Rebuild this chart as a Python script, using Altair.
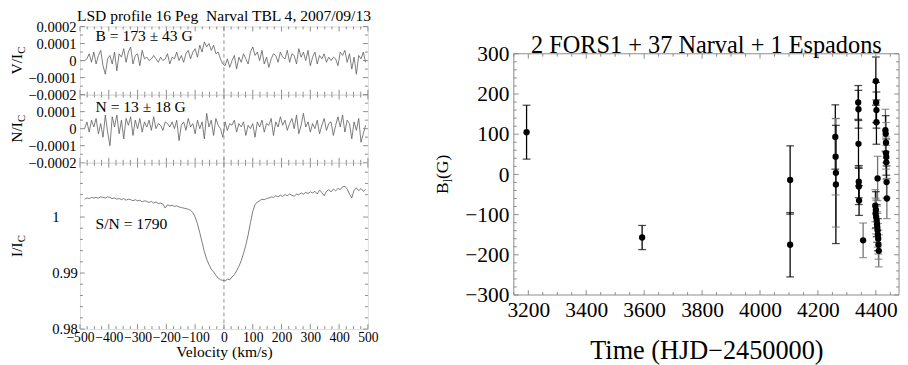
import altair as alt
import pandas as pd

FONT = "Liberation Serif"
GRAY = "#8a8a8a"
LINE = "#5a5a5a"

# ---------------- Left: LSD profiles (16 Peg, Narval 2007/09/13) ----------------
VEL_START = -484      # km/s, first velocity bin
VEL_STEP = 8          # km/s, bin width

# Stokes V / Ic  (units of 1e-4)
V_1e4 = [0.0, 0.1, 0.4, -0.1, 0.5, -0.2, 0.3, 0.6, -0.3, -0.8, 0.1,
         0.3, -0.2, 0.5, -0.6, 0.4, 0.2, 0.7, -0.1, 0.5, 0.8, -0.2, 0.3,
         0.4, -0.3, 0.6, 0.1, 0.2, 0.0, 0.1, 0.3, 0.1, -0.1, 0.2, 0.0, 0.1,
         0.4, -0.2, 0.2, 0.1, 0.5, 0.0, 0.3, -0.1, 0.4, 0.6, 0.1, 0.5,
         0.7, 0.2, 0.9, 0.5, 1.1, 0.8, 1.0, 0.6, 0.9, 0.4, 0.5, 0.1, -0.2,
         -0.3, 0.1, -0.4, 0.0, 0.3, -0.5, 0.2, -0.1, 0.4, 0.1, -0.2, 0.5, 0.8,
         0.3, 0.5, 0.0, 0.6, -0.2, 0.2, -0.4, 0.1, 0.4, 0.3, -0.1, 0.5, 0.2,
         0.1, 0.6, -0.1, 0.4, 0.3, -0.2, 0.7, 0.2, 0.5, 0.0, 0.6, -0.3,
         0.2, 0.5, -0.2, 0.3, 0.1, 0.4, -0.1, 0.2, 0.0, 0.2, 0.1, -0.3,
         0.5, 0.3, 0.6, -0.1, 0.4, -0.5, 0.2, -0.8, 0.3, 0.1, 0.5, -0.1]

# Null profile N / Ic  (units of 1e-4)
N_1e4 = [0.0, 0.4, -0.2, 0.5, 0.1, 0.6, -0.3, 0.3, -0.5, 0.8, -0.2,
         -1.0, 0.7, 0.1, 0.8, -0.3, 0.5, -0.6, 0.6, 0.2, 0.7, -0.4, 0.5,
         0.0, 0.6, -0.2, 0.4, 0.1, 0.5, -0.1, 0.7, 0.0, 0.3, 0.2, -0.1, 0.4,
         0.3, 0.1, 0.4, 0.0, 0.5, -0.7, 0.2, 0.4, -0.1, 0.6, 0.1, 0.3,
         -0.3, 0.5, 0.0, 0.4, -0.6, 0.9, 0.1, 0.5, -0.4, 0.6, 0.2, 0.0, -0.5,
         0.4, -0.1, 0.3, 0.2, 0.5, -0.2, 0.3, 0.1, 0.4, -0.4, 0.2, 0.0, 0.3,
         -0.5, 0.4, 0.1, 0.5, -0.2, 0.3, 0.2, 0.6, -0.4, 0.4, 0.1, 0.7, 0.2,
         0.5, -0.1, 0.3, 0.6, 0.0, 0.8, -0.3, 0.2, 0.9, 0.1, 0.4, -0.2,
         0.3, 0.0, 0.5, -0.3, 0.2, 0.6, -0.1, 0.3, 0.4, -0.4, 0.2, 0.7,
         0.1, 0.8, -0.2, 0.5, 0.3, -0.6, 0.4, -0.1, 0.6, -0.8, -0.3, 0.2]

# Intensity I / Ic
I_IC = [1.0032, 1.0034, 1.0033, 1.0035, 1.0034, 1.0035, 1.0034, 1.0036, 1.0035, 1.0034, 1.0036,
        1.0035, 1.0033, 1.0034, 1.0032, 1.0033, 1.0031, 1.0033, 1.0030, 1.0032, 1.0031, 1.0029, 1.0031,
        1.0029, 1.0030, 1.0027, 1.0029, 1.0028, 1.0026, 1.0028, 1.0025, 1.0027, 1.0024, 1.0025, 1.0023, 1.0016,
        1.0022, 1.0020, 1.0021, 1.0019, 1.0020, 1.0018, 1.0017, 1.0016, 1.0015, 1.0014, 1.0012, 1.0008,
        1.0000, 0.9988, 0.9972, 0.9955, 0.9938, 0.9925, 0.9915, 0.9907, 0.9902, 0.9896, 0.9891, 0.9888, 0.9887,
        0.9886, 0.9889, 0.9888, 0.9893, 0.9897, 0.9904, 0.9912, 0.9922, 0.9935, 0.9950, 0.9968, 0.9990, 1.0010,
        1.0022, 1.0027, 1.0029, 1.0032, 1.0031, 1.0033, 1.0034, 1.0036, 1.0035, 1.0038, 1.0036, 1.0039, 1.0037,
        1.0040, 1.0038, 1.0041, 1.0039, 1.0037, 1.0041, 1.0040, 1.0043, 1.0041, 1.0044, 1.0042, 1.0045,
        1.0043, 1.0046, 1.0041, 1.0048, 1.0044, 1.0038, 1.0046, 1.0049, 1.0045, 1.0050, 1.0047, 1.0051,
        1.0049, 1.0054, 1.0055, 1.0050, 1.0041, 1.0034, 1.0048, 1.0052, 1.0047, 1.0051, 1.0046, 1.0049]

velocity = [VEL_START + VEL_STEP * i for i in range(len(I_IC))]
prof = pd.DataFrame({
    "vel": velocity,
    "V": [v * 1e-4 for v in V_1e4],
    "N": [v * 1e-4 for v in N_1e4],
    "I": I_IC,
})

LEFT_TITLE = "LSD profile 16 Peg\u00a0\u00a0Narval TBL 4, 2007/09/13"
RIGHT_TITLE = "2 FORS1 + 37 Narval + 1 Espadons"

# ---------------- Right: longitudinal field measurements ----------------
HJD = [3194, 3593,
       4104, 4104,
       4260, 4261, 4262, 4262,
       4339, 4340, 4340, 4341, 4341, 4342,
       4356,
       4400, 4401, 4402, 4402,
       4406,
       4398, 4400, 4399, 4401, 4403, 4404, 4405, 4406, 4407, 4408, 4409, 4410,
       4433, 4434, 4435, 4435, 4436, 4436, 4437, 4438]
BL = [105, -157,
      -14, -175,
      93, 44, 4, -25,
      179, 162, 76, -18, -30, -65,
      -164,
      232, 179, 160, 130,
      -10,
      -78, -88, -97, -106, -115, -124, -131, -139, -150, -160, -175, -190,
      110, 101, 79, 53, 43, 30, -19, -60]
BL_ERR = [67, 30,
          85, 80,
          80, 95, 135, 147,
          42, 47, 58, 40, 45, 37,
          43,
          60, 50, 45, 55,
          55,
          40, 45, 38, 42, 40, 45, 38, 42, 40, 38, 36, 40,
          52, 45, 50, 40, 45, 42, 40, 50]
GROUP = ["A", "A",
         "A", "A",
         "A", "B", "B", "A",
         "A", "A", "A", "A", "A", "A",
         "B",
         "A", "A", "A", "A",
         "B",
         "B", "A", "B", "B", "A", "B", "B", "B", "A", "B", "B", "B",
         "B", "A", "B", "B", "A", "B", "A", "B"]

bdf = pd.DataFrame({"t": HJD, "B": BL, "err": BL_ERR, "grp": GROUP})
bdf["lo"] = bdf["B"] - bdf["err"]
bdf["hi"] = bdf["B"] + bdf["err"]

ONE = pd.DataFrame({"a": [0]})
ZERO = pd.DataFrame({"z": [0]})


def tick_layers(xs, ys, xmaj, xmin, ymaj, ymin, w, top, bottom, lmaj, lmin):
    layers = []
    for vals, L in ((xmaj, lmaj), (xmin, lmin)):
        d = pd.DataFrame({"t": vals})
        for y0, y1 in ((bottom, bottom - L), (top, top + L)):
            layers.append(alt.Chart(d).mark_rule(color=GRAY, strokeWidth=1).encode(
                x=alt.X("t:Q", scale=xs, axis=None), y=alt.value(y0), y2=alt.value(y1)))
    for vals, L in ((ymaj, lmaj), (ymin, lmin)):
        d = pd.DataFrame({"t": vals})
        for x0, x1 in ((0, L), (w, w - L)):
            layers.append(alt.Chart(d).mark_rule(color=GRAY, strokeWidth=1).encode(
                y=alt.Y("t:Q", scale=ys, axis=None), x=alt.value(x0), x2=alt.value(x1)))
    return layers


def rot_label(parts, yc, x0):
    """parts: (text, fontSize, approx width px, baseline shift px)"""
    total = sum(p[2] for p in parts)
    y = yc + total / 2
    layers = []
    for text, fs, wpx, dx in parts:
        layers.append(alt.Chart(ONE).mark_text(
            text=text, font=FONT, fontSize=fs, angle=270, align="left",
            baseline="alphabetic", color="black").encode(
            x=alt.value(x0 + dx), y=alt.value(y)))
        y -= wpx
    return layers


def note(text, x, y, size=16, align="left", opacity=1.0):
    return alt.Chart(ONE).mark_text(text=text, font=FONT, fontSize=size, align=align,
                                    baseline="middle", color="black", opacity=opacity).encode(
        x=alt.value(x), y=alt.value(y))


W_L = 296
H_V, H_N, H_I = 70, 70, 171
xs_L = alt.Scale(domain=[-500, 500], nice=False, zero=False)
X_MAJ_L = list(range(-500, 501, 100))
X_MIN_L = [v for v in range(-500, 501, 25) if v % 100 != 0]


def yaxis_left(values, align="right", pad=4):
    return alt.Axis(values=values, format="~g", labelFont=FONT, labelFontSize=15,
                    labelColor="black", labelPadding=pad, labelAlign=align,
                    ticks=False, domain=False, grid=False, title=None,
                    labelOverlap=False, labelFlush=False)


def profile_panel(field, ydom, yvals, ymaj, ymin, h, ylab_parts, extra, show_x):
    ys = alt.Scale(domain=ydom, nice=False, zero=False)
    if show_x:
        xax = alt.Axis(values=X_MAJ_L, format="d", labelFont=FONT, labelFontSize=14,
                       labelColor="black", labelPadding=2, ticks=False, domain=False,
                       grid=False, labelFlush=False, labelOverlap=False,
                       title="Velocity (km/s)", titleFont=FONT, titleFontSize=16,
                       titleFontWeight="normal", titleColor="black", titlePadding=-1)
    else:
        xax = None
    align, pad = ("left", 29) if field == "I" else ("right", 4)
    line = alt.Chart(prof).mark_line(color=LINE, strokeWidth=0.8).encode(
        x=alt.X("vel:Q", scale=xs_L, axis=xax),
        y=alt.Y(f"{field}:Q", scale=ys, axis=yaxis_left(yvals, align, pad)))
    zero = alt.Chart(ZERO).mark_rule(color="#777", strokeWidth=0.8, strokeDash=[4, 3]).encode(
        x=alt.X("z:Q", scale=xs_L, axis=None), y=alt.value(0), y2=alt.value(h))
    layers = [line, zero] + tick_layers(xs_L, ys, X_MAJ_L, X_MIN_L, ymaj, ymin, W_L, 0, h, 5, 3)
    layers += rot_label(ylab_parts, h / 2, -60) + extra
    return alt.layer(*layers).resolve_axis(x="independent", y="independent").properties(width=W_L, height=h)


VN_MAJ = [-0.0002, -0.0001, 0.0, 0.0001, 0.0002]
VN_MIN = [-0.00015, -0.00005, 0.00005, 0.00015]
TITLE_Y = -11

v_panel = profile_panel(
    "V", [-0.0002, 0.0002], VN_MAJ, VN_MAJ, VN_MIN, H_V,
    [("V/I", 16, 21.3, 0), ("C", 11, 7.5, 3)],
    [note("B = 173 ± 43 G", 16, 10), note(LEFT_TITLE, W_L / 2, TITLE_Y, 16, "center")], False)
n_panel = profile_panel(
    "N", [-0.0002, 0.0002], [-0.0002, -0.0001, 0.0, 0.0001], VN_MAJ, VN_MIN, H_N,
    [("N/I", 16, 21.3, 0), ("C", 11, 7.5, 3)],
    [note("N = 13 ± 18 G", 16, 13)], False)
I_MIN = [0.982, 0.984, 0.986, 0.988, 0.992, 0.994, 0.996, 0.998, 1.002, 1.004, 1.006, 1.008]
i_panel = profile_panel(
    "I", [0.98, 1.0097], [0.98, 0.99, 1.0], [0.98, 0.99, 1.0], I_MIN, H_I,
    [("I/I", 16, 15.1, 0), ("C", 11, 7.5, 3)],
    [note("S/N = 1790", 16, 63)], True)

left = alt.vconcat(v_panel, n_panel, i_panel, spacing=0, bounds="flush")

# ---------------- right chart ----------------
W_R = 396
H_R_AREA = 276          # from the top of the left panels to the bottom of the right frame
R_TOP = 28              # frame top inside the area
xs_R = alt.Scale(domain=[3150, 4480], nice=False, zero=False)
ys_R = alt.Scale(domain=[-300, 300], nice=False, zero=False, range=[H_R_AREA, R_TOP])
X_MAJ_R = list(range(3200, 4401, 200))
X_MIN_R = [v for v in range(3150, 4480, 50) if v % 200 != 0]
Y_MAJ_R = list(range(-300, 301, 100))
Y_MIN_R = [v for v in range(-300, 301, 20) if v % 100 != 0]

color_enc = alt.Color("grp:N", scale=alt.Scale(domain=["A", "B"], range=["black", "#707070"]), legend=None)
xax_R = alt.Axis(values=X_MAJ_R, format="d", labelFont=FONT, labelFontSize=22, labelColor="black",
                 labelPadding=5, ticks=False, domain=False, grid=False, labelFlush=False,
                 labelOverlap=False, title="Time (HJD\u22122450000)", titleFont=FONT,
                 titleFontSize=27, titleFontWeight="normal", titleColor="black", titlePadding=18)
yax_R = alt.Axis(values=Y_MAJ_R, format="d", labelFont=FONT, labelFontSize=22, labelColor="black",
                 labelPadding=5, ticks=False, domain=False, grid=False, labelFlush=False,
                 labelOverlap=False, title=None)

base = alt.Chart(bdf)
bars = base.mark_rule(strokeWidth=1.3).encode(
    x=alt.X("t:Q", scale=xs_R, axis=xax_R),
    y=alt.Y("lo:Q", scale=ys_R, axis=yax_R), y2="hi:Q", color=color_enc)
cap_lo = base.mark_tick(orient="horizontal", size=8, thickness=1.3).encode(
    x=alt.X("t:Q", scale=xs_R, axis=None), y=alt.Y("lo:Q", scale=ys_R, axis=None), color=color_enc)
cap_hi = base.mark_tick(orient="horizontal", size=8, thickness=1.3).encode(
    x=alt.X("t:Q", scale=xs_R, axis=None), y=alt.Y("hi:Q", scale=ys_R, axis=None), color=color_enc)
pts = base.mark_circle(size=42, color="black", opacity=1).encode(
    x=alt.X("t:Q", scale=xs_R, axis=None), y=alt.Y("B:Q", scale=ys_R, axis=None))

frame = [
    alt.Chart(ONE).mark_rule(color=GRAY, strokeWidth=1).encode(
        x=alt.value(0), x2=alt.value(W_R), y=alt.value(R_TOP)),
    alt.Chart(ONE).mark_rule(color=GRAY, strokeWidth=1).encode(
        x=alt.value(0), x2=alt.value(W_R), y=alt.value(H_R_AREA)),
    alt.Chart(ONE).mark_rule(color=GRAY, strokeWidth=1).encode(
        x=alt.value(0), y=alt.value(R_TOP), y2=alt.value(H_R_AREA)),
    alt.Chart(ONE).mark_rule(color=GRAY, strokeWidth=1).encode(
        x=alt.value(W_R), y=alt.value(R_TOP), y2=alt.value(H_R_AREA)),
]

right_layers = frame + [bars, cap_lo, cap_hi, pts]
right_layers += tick_layers(xs_R, ys_R, X_MAJ_R, X_MIN_R, Y_MAJ_R, Y_MIN_R, W_R, R_TOP, H_R_AREA, 5, 3)
right_layers += rot_label([("B", 18, 12.0, 0), ("l", 12, 3.4, 4), ("(G)", 18, 25.0, 0)],
                          (R_TOP + H_R_AREA) / 2, -68)
right_layers += [note(RIGHT_TITLE, W_R / 2, R_TOP - 9, 25, "center"),
                 note("\u00a0", W_R / 2, TITLE_Y, 16, "center", opacity=0)]

right = alt.layer(*right_layers).resolve_axis(x="independent", y="independent").properties(
    width=W_R, height=H_R_AREA, view=alt.ViewBackground(stroke="transparent"))

chart = alt.hconcat(left, right, spacing=56).properties(
    padding={"left": 0, "top": -6, "right": 0, "bottom": 0}
).configure_view(stroke=GRAY, strokeWidth=1).configure(font=FONT)

chart.save("out.html", embed_options={"renderer": "svg", "actions": False})
